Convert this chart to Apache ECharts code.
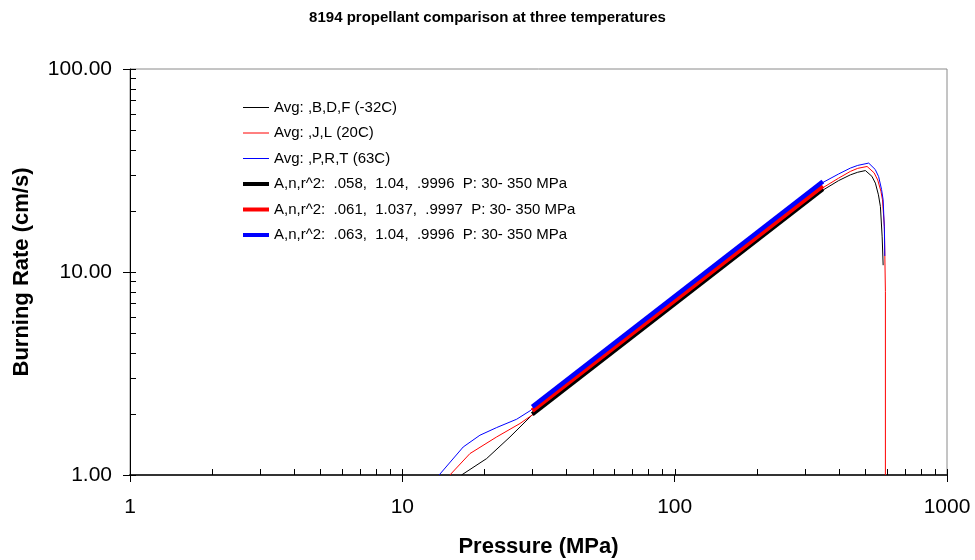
<!DOCTYPE html>
<html>
<head>
<meta charset="utf-8">
<script src="https://cdn.jsdelivr.net/npm/echarts@6/dist/echarts.min.js"></script>
<style>html,body{margin:0;padding:0;background:#fff}#c{width:975px;height:560px}</style>
</head>
<body>
<div id="c"></div>
<script>
// ---- Data ----
var titleText = '8194 propellant comparison at three temperatures';
var seriesNames = [
  'Avg: ,B,D,F (-32C)',
  'Avg: ,J,L (20C)',
  'Avg: ,P,R,T (63C)',
  'A,n,r^2:  .058,  1.04,  .9996  P: 30- 350 MPa',
  'A,n,r^2:  .061,  1.037,  .9997  P: 30- 350 MPa',
  'A,n,r^2:  .063,  1.04,  .9996  P: 30- 350 MPa'
];
var seriesColors = ['#000000', '#ff0000', '#0000ff', '#000000', '#ff0000', '#0000ff'];
// Average curves (-32C)
var pressureBlack = [16.5, 20.4, 24.85, 29.9, 50, 100, 200, 300, 350, 400, 441.8, 470, 501.6, 530, 545.8, 560, 569.5, 578, 582.8];
var rateBlack     = [1.0, 1.205, 1.54, 1.97, 3.37, 6.94, 14.3, 21.6, 25.3, 28.2, 30.1, 31.0, 31.6, 29.6, 27.4, 24.0, 21.0, 14.9, 10.8];
// Average curves (20C)
var pressureRed = [14.95, 17.71, 22.2, 27.04, 29.9, 50, 100, 200, 300, 350, 400, 441.8, 470, 508.8, 540, 556.6, 572, 579.5, 589, 594, 594];
var rateRed     = [1.0, 1.275, 1.54, 1.793, 1.97, 3.50, 7.17, 14.7, 22.2, 26.0, 29.0, 31.3, 32.4, 33.1, 30.8, 28.4, 25.0, 22.66, 16.7, 8.0, 1.0];
// Average curves (63C)
var pressureBlue = [13.65, 16.73, 19.27, 22.2, 26.3, 29.43, 50, 100, 200, 300, 350, 400, 441.8, 470, 515.8, 545, 561, 575, 582.8, 589, 591];
var rateBlue     = [1.0, 1.374, 1.57, 1.713, 1.883, 2.071, 3.68, 7.55, 15.6, 23.5, 27.6, 30.4, 32.5, 33.5, 34.4, 32.0, 29.5, 25.5, 22.66, 16.1, 12.0];
// Power-law fits r = A P^n over 30-350 MPa
var fitPressure = [30, 350];
var fitBlack = [1.993, 25.66];
var fitRed   = [2.075, 26.5];
var fitBlue  = [2.165, 27.9];
// Tick positions
var xTickValues = [1, 2, 3, 4, 5, 6, 7, 8, 9, 10, 20, 30, 40, 50, 60, 70, 80, 90, 100, 200, 300, 400, 500, 600, 700, 800, 900, 1000];
var yTickValues = [1, 2, 3, 4, 5, 6, 7, 8, 9, 10, 20, 30, 40, 50, 60, 70, 80, 90, 100];

function pairs(xs, ys) { return xs.map(function (x, i) { return [x, ys[i]]; }); }

var FONT = 'Liberation Sans, Arial, sans-serif';
var THIN = 1, THICK = 4.5;
var chart = echarts.init(document.getElementById('c'), null, {renderer: 'canvas'});

function thin(i, xs, ys) {
  return {name: seriesNames[i], type: 'line', data: pairs(xs, ys), symbol: 'none', showSymbol: false,
    lineStyle: {color: seriesColors[i], width: THIN}, itemStyle: {color: seriesColors[i]}, z: 3, silent: true};
}
function thick(i, ys) {
  return {name: seriesNames[i], type: 'line', data: pairs(fitPressure, ys), symbol: 'none', showSymbol: false,
    lineStyle: {color: seriesColors[i], width: THICK}, itemStyle: {color: seriesColors[i]}, z: 4, silent: true};
}

var option = {
  animation: false,
  backgroundColor: '#fff',
  title: {
    text: titleText, left: 'center', top: 5,
    textStyle: {fontFamily: FONT, fontSize: 15, fontWeight: 'bold', color: '#000'}
  },
  grid: {left: 130, top: 69, width: 817, height: 406, outerBoundsMode: 'none', containLabel: false,
    show: true, borderColor: '#8a8a8a', borderWidth: 1, backgroundColor: 'transparent'},
  legend: {
    orient: 'vertical', left: 241, top: 100, padding: 0, itemWidth: 26, itemHeight: 14, itemGap: 10.5,
    itemStyle: {opacity: 0, borderWidth: 0},
    textStyle: {fontFamily: FONT, fontSize: 15, color: '#000'},
    data: seriesNames.map(function (n, i) {
      return {name: n, lineStyle: {width: i < 3 ? THIN : 4, color: seriesColors[i]}, itemStyle: {opacity: 0, borderWidth: 0}};
    })
  },
  xAxis: {
    type: 'log', logBase: 10, min: 1, max: 1000,
    name: 'Pressure (MPa)', nameLocation: 'middle', nameGap: 61,
    nameTextStyle: {fontFamily: FONT, fontSize: 22, fontWeight: 'bold', color: '#000'},
    axisLine: {show: true, lineStyle: {color: '#333', width: 2}},
    axisTick: {show: true, inside: false, length: 7, lineStyle: {color: '#000'}},
    axisLabel: {fontFamily: FONT, fontSize: 21, color: '#000', margin: 22,
      formatter: function (v) { return String(v); }},
    splitLine: {show: false}
  },
  yAxis: {
    type: 'log', logBase: 10, min: 1, max: 100,
    name: 'Burning Rate (cm/s)', nameLocation: 'middle', nameGap: 97,
    nameTextStyle: {fontFamily: FONT, fontSize: 22, fontWeight: 'bold', color: '#000'},
    axisLine: {show: true, lineStyle: {color: '#000', width: 1}},
    axisTick: {show: true, inside: false, length: 7, lineStyle: {color: '#000'}},
    axisLabel: {fontFamily: FONT, fontSize: 21, color: '#000', margin: 18,
      formatter: function (v) { return Number(v).toFixed(2); }},
    splitLine: {show: false}
  },
  series: [
    thin(0, pressureBlack, rateBlack),
    thin(1, pressureRed, rateRed),
    thin(2, pressureBlue, rateBlue),
    thick(3, fitBlack),
    thick(4, fitRed),
    thick(5, fitBlue),
    {
      type: 'custom', silent: true, z: 5, clip: false,
      data: xTickValues.map(function (v) { return [v, 1]; }),
      renderItem: function (params, api) {
        var p = api.coord([api.value(0), api.value(1)]);
        var x = Math.round(p[0]) + 0.5;
        return {type: 'line', shape: {x1: x, y1: p[1], x2: x, y2: p[1] - 6},
          style: {stroke: '#000', lineWidth: 1}};
      }
    },
    {
      type: 'custom', silent: true, z: 5, clip: false,
      data: yTickValues.map(function (v) { return [1, v]; }),
      renderItem: function (params, api) {
        var p = api.coord([api.value(0), api.value(1)]);
        var y = Math.round(p[1]) + 0.5;
        return {type: 'line', shape: {x1: p[0], y1: y, x2: p[0] + 6, y2: y},
          style: {stroke: '#000', lineWidth: 1}};
      }
    }
  ]
};
chart.setOption(option);
</script>
</body>
</html>
